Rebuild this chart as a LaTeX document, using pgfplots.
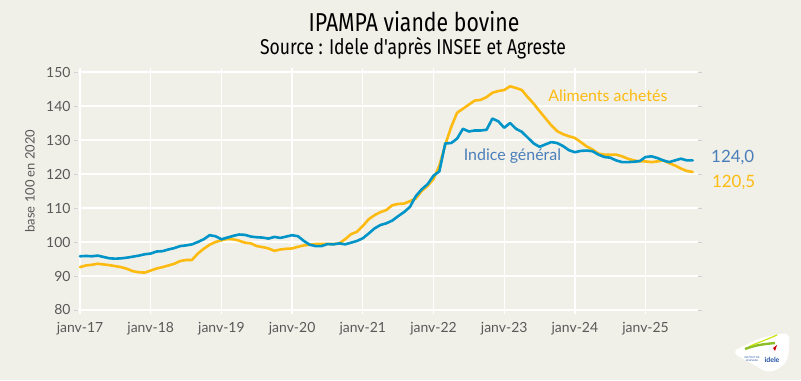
\documentclass[border=0pt]{standalone}
\usepackage{pgfplots}
\pgfplotsset{compat=1.18}
\usepackage{fontspec}
\setmainfont{Lato}
\newfontfamily\titlefont[FakeStretch=0.82]{Fira Sans}
\definecolor{bg}{RGB}{240,240,232}
\definecolor{lblue}{RGB}{0,148,200}
\definecolor{lyel}{RGB}{253,187,18}
\definecolor{tblue}{RGB}{74,126,187}
\definecolor{tgray}{RGB}{89,89,89}
\definecolor{logogreen}{RGB}{140,190,40}
\definecolor{logoblue}{RGB}{30,80,160}

\pgfplotstableread{
m v
0 95.8
1 95.9
2 95.8
3 96.0
4 95.6
5 95.2
6 95.1
7 95.2
8 95.4
9 95.7
10 96.0
11 96.4
12 96.6
13 97.2
14 97.3
15 97.8
16 98.2
17 98.8
18 99.0
19 99.3
20 100.0
21 100.8
22 102.0
23 101.7
24 100.8
25 101.3
26 101.8
27 102.2
28 102.1
29 101.6
30 101.4
31 101.3
32 101.0
33 101.5
34 101.2
35 101.6
36 102.0
37 101.7
38 100.3
39 99.2
40 98.8
41 98.8
42 99.4
43 99.3
44 99.6
45 99.3
46 99.8
47 100.3
48 101.1
49 102.5
50 104.0
51 105.0
52 105.5
53 106.3
54 107.6
55 108.8
56 110.3
57 113.5
58 115.5
59 117.0
60 119.5
61 120.8
62 129.0
63 129.1
64 130.4
65 133.3
66 132.5
67 132.8
68 132.8
69 133.0
70 136.3
71 135.5
72 133.6
73 135.0
74 133.3
75 132.4
76 130.7
77 129.0
78 128.0
79 128.7
80 129.4
81 129.1
82 128.2
83 127.0
84 126.4
85 126.8
86 126.9
87 126.7
88 125.7
89 125.0
90 124.8
91 124.0
92 123.5
93 123.5
94 123.6
95 123.8
96 125.0
97 125.2
98 124.7
99 124.0
100 123.5
101 124.0
102 124.5
103 124.0
104 124.0
}\blue

\pgfplotstableread{
m v
0 92.6
1 93.1
2 93.3
3 93.6
4 93.4
5 93.2
6 92.9
7 92.6
8 92.1
9 91.4
10 91.1
11 91.0
12 91.6
13 92.2
14 92.6
15 93.1
16 93.6
17 94.4
18 94.7
19 94.7
20 96.6
21 98.0
22 99.2
23 100.0
24 100.5
25 100.9
26 100.8
27 100.4
28 99.8
29 99.6
30 98.8
31 98.5
32 98.1
33 97.4
34 97.8
35 98.0
36 98.1
37 98.6
38 99.0
39 99.2
40 99.4
41 99.4
42 99.4
43 99.4
44 99.6
45 100.8
46 102.3
47 103.0
48 104.7
49 106.7
50 107.9
51 108.8
52 109.4
53 110.8
54 111.2
55 111.3
56 112.0
57 112.8
58 115.0
59 116.5
60 118.5
61 122.5
62 128.6
63 133.8
64 138.0
65 139.2
66 140.4
67 141.6
68 141.8
69 142.6
70 143.9
71 144.4
72 144.7
73 145.8
74 145.3
75 144.7
76 142.6
77 140.7
78 138.5
79 136.4
80 134.3
81 132.6
82 131.7
83 131.1
84 130.6
85 129.4
86 128.1
87 127.2
88 126.0
89 125.7
90 125.7
91 125.7
92 125.2
93 124.5
94 124.0
95 123.7
96 123.7
97 123.5
98 123.7
99 124.0
100 123.2
101 122.5
102 121.6
103 120.9
104 120.6
}\yel

\begin{document}
\begin{tikzpicture}[x=1bp,y=1bp]
\fill[bg] (0,0) rectangle (801,380);
\useasboundingbox (0,0) rectangle (801,380);
\node[font=\titlefont\fontsize{26}{30}\selectfont, text=black] at (414,358) {IPAMPA viande bovine};
\node[font=\titlefont\fontsize{21.5}{24}\selectfont, text=black] at (413,332) {Source : Idele d'après INSEE et Agreste};
\node[rotate=90, font=\fontsize{13}{15}\selectfont, text=tgray] at (30,199) {base 100 en 2020};
\begin{axis}[
  at={(78bp,70bp)}, anchor=south west,
  scale only axis, width=620bp, height=238bp,
  xmin=-0.34, xmax=104.9, ymin=80, ymax=150,
  ytick={80,90,...,150},
  xtick={0,12,24,36,48,60,72,84,96},
  xticklabels={janv-17,janv-18,janv-19,janv-20,janv-21,janv-22,janv-23,janv-24,janv-25},
  grid=major,
  major grid style={white, line width=1.3bp},
  axis line style={draw=none},
  tick align=outside,
  major tick length=4bp,
  xtick style={white, line width=1.3bp},
  ytick style={gray!35, line width=0.8bp},
  tick label style={font=\fontsize{14}{16}\selectfont, text=tgray},
  xticklabel style={yshift=-5bp},
  /pgf/number format/assume math mode=true,
  clip=false,
]
\addplot[lyel, line width=2.6bp, line join=round, line cap=round] table[x=m,y=v] {\yel};
\addplot[lblue, line width=2.6bp, line join=round, line cap=round] table[x=m,y=v] {\blue};
\node[text=lyel, font=\fontsize{16}{18}\selectfont] at (axis cs:89.6,142.9) {Aliments achetés};
\node[text=tblue, font=\fontsize{16}{18}\selectfont] at (axis cs:73.4,125.4) {Indice général};
\node[text=tblue, anchor=west, inner sep=0pt, font=\fontsize{17}{19}\selectfont] at (axis cs:107.1,124.8) {124,0};
\node[text=lyel, anchor=west, inner sep=0pt, font=\fontsize{17}{19}\selectfont] at (axis cs:107.25,117.4) {120,5};
\end{axis}
% logo
\fill[white, rounded corners=8bp] (731,28) -- (760,42) -- (790,48) -- (788,18) -- (770,6) -- cycle;
\draw[logogreen, line width=2.4bp] (745,31) .. controls (755,35) and (765,36) .. (775,37);
\draw[yellow!80!green, line width=1.2bp] (750,34) .. controls (760,38) and (768,41) .. (777,45);
\fill[red!80!black] (773,32) -- (777,35) -- (775,29) -- cycle;
\node[text=logoblue, font=\bfseries\fontsize{7}{8}\selectfont, inner sep=0pt] at (772,20) {idele};
\node[text=logoblue, font=\fontsize{2.5}{3}\selectfont, inner sep=0pt, align=center] at (752,21) {INSTITUT DE\\L'ÉLEVAGE};
\end{tikzpicture}
\end{document}
